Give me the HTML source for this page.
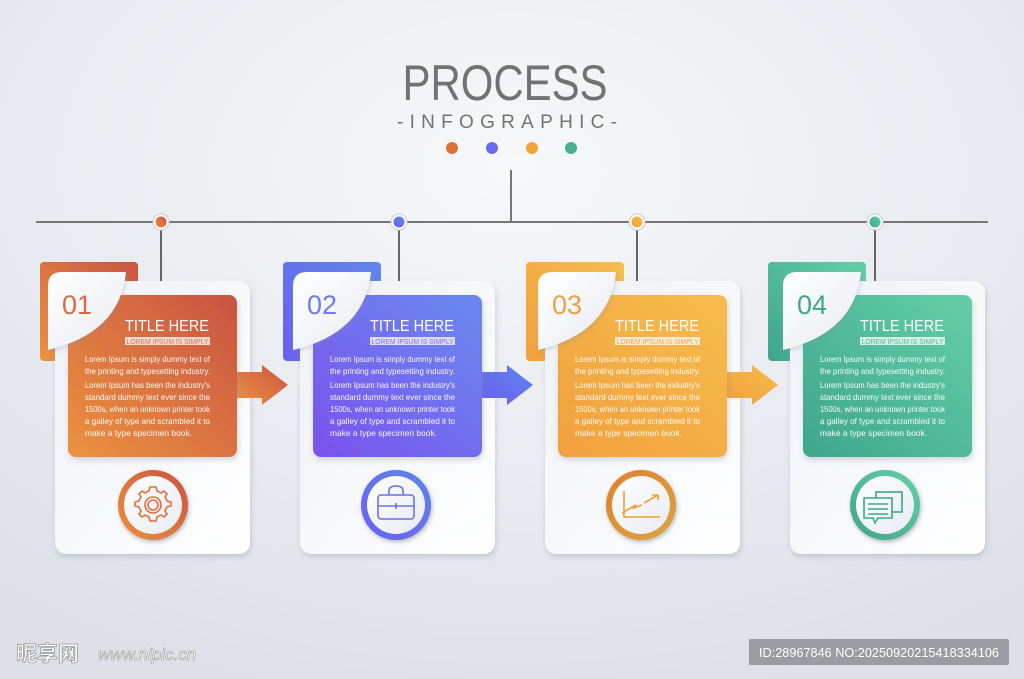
<!DOCTYPE html>
<html><head><meta charset="utf-8"><style>
html,body{margin:0;padding:0;width:1024px;height:679px;overflow:hidden;background:#e6e9ee}
svg{display:block;font-family:"Liberation Sans",sans-serif}
</style></head><body>
<svg width="1024" height="679" viewBox="0 0 1024 679" xmlns="http://www.w3.org/2000/svg">
<defs>
<radialGradient id="bg" cx="0.5" cy="0.25" r="0.8"><stop offset="0" stop-color="#f7f8fa"/><stop offset="1" stop-color="#dde1e7"/></radialGradient>
<linearGradient id="c0" x1="0" y1="1" x2="1" y2="0"><stop offset="0" stop-color="#ec9240"/><stop offset="1" stop-color="#c85443"/></linearGradient>
<linearGradient id="c1" x1="0" y1="1" x2="1" y2="0"><stop offset="0" stop-color="#6a5ff0"/><stop offset="1" stop-color="#5f86ea"/></linearGradient>
<linearGradient id="c1p" x1="0" y1="1" x2="1" y2="0"><stop offset="0" stop-color="#7a52ee"/><stop offset="1" stop-color="#6a8aee"/></linearGradient>
<linearGradient id="c2" x1="0" y1="1" x2="1" y2="0"><stop offset="0" stop-color="#f1a03e"/><stop offset="1" stop-color="#f6bd4c"/></linearGradient>
<linearGradient id="c2r" x1="0" y1="0" x2="1" y2="1"><stop offset="0" stop-color="#e0802e"/><stop offset="1" stop-color="#d9a640"/></linearGradient>
<linearGradient id="c3" x1="0" y1="1" x2="1" y2="0"><stop offset="0" stop-color="#3fa68a"/><stop offset="1" stop-color="#63cfa8"/></linearGradient>
<linearGradient id="leaf" x1="0" y1="0" x2="1" y2="1"><stop offset="0" stop-color="#ffffff"/><stop offset="1" stop-color="#e8ebf1"/></linearGradient>
<linearGradient id="card" x1="0" y1="0" x2="1" y2="1"><stop offset="0" stop-color="#eef1f6"/><stop offset="1" stop-color="#ffffff"/></linearGradient>
<filter id="sh" x="-20%" y="-20%" width="140%" height="140%"><feDropShadow dx="1" dy="3" stdDeviation="3" flood-color="#8890a0" flood-opacity="0.35"/></filter>
<filter id="sh3" x="-20%" y="-20%" width="140%" height="140%"><feDropShadow dx="1" dy="2" stdDeviation="2" flood-color="#8890a0" flood-opacity="0.3"/></filter>
<filter id="sh2" x="-30%" y="-30%" width="160%" height="160%"><feDropShadow dx="1" dy="2" stdDeviation="2" flood-color="#555" flood-opacity="0.4"/></filter>
</defs>
<rect width="1024" height="679" fill="url(#bg)"/>

<text x="505" y="100" font-size="50" fill="#727272" text-anchor="middle" textLength="205" lengthAdjust="spacingAndGlyphs">PROCESS</text>
<text x="507" y="128" font-size="19" fill="#727272" text-anchor="middle" textLength="220" lengthAdjust="spacing">-INFOGRAPHIC-</text>
<circle cx="452" cy="148" r="6" fill="#e0703c"/><circle cx="492" cy="148" r="6" fill="#6a6cf0"/><circle cx="532" cy="148" r="6" fill="#f3a23c"/><circle cx="571" cy="148" r="6" fill="#45b08f"/>
<line x1="511" y1="170" x2="511" y2="222" stroke="#777" stroke-width="2"/>
<line x1="36" y1="222" x2="988" y2="222" stroke="#777" stroke-width="2"/>

<g>
<line x1="161" y1="222" x2="161" y2="282" stroke="#666" stroke-width="2"/>
<circle cx="161" cy="222" r="8" fill="#fff" stroke="#ccc"/><circle cx="161" cy="222" r="5.5" fill="url(#c0)"/>
<rect x="40" y="262" width="98" height="99" rx="4" fill="url(#c0)"/>
<rect x="55" y="281" width="195" height="273" rx="11" fill="url(#card)" filter="url(#sh)"/>
<path d="M237,372 H262 V365 L288,385 L262,405 V398 H237 Z" fill="url(#c0)"/>
<rect x="68" y="295" width="169" height="162" rx="8" fill="url(#c0)" filter="url(#sh)"/>
<path d="M48,350 L48,286 Q48,272 62,272 L126,272 Q120,333 48,350 Z" fill="url(#leaf)" filter="url(#sh3)"/>
<text x="62" y="314" font-size="27" fill="#d96a40">01</text>
<text x="167" y="331" font-size="15.5" fill="#fff" text-anchor="middle" textLength="84" lengthAdjust="spacingAndGlyphs">TITLE HERE</text>
<rect x="125" y="337" width="85" height="8" fill="#fff" opacity="0.75"/>
<text x="167.5" y="344" font-size="7" fill="#d47060" text-anchor="middle" textLength="82" lengthAdjust="spacingAndGlyphs">LOREM IPSUM IS SIMPLY</text>
<g font-size="8.3" fill="#fff" opacity="0.95">
<text x="85" y="362" textLength="125" lengthAdjust="spacingAndGlyphs">Lorem Ipsum is simply dummy text of</text>
<text x="85" y="374" textLength="125" lengthAdjust="spacingAndGlyphs">the printing and typesetting industry.</text>
<text x="85" y="388" textLength="125" lengthAdjust="spacingAndGlyphs">Lorem Ipsum has been the industry's</text>
<text x="85" y="400" textLength="125" lengthAdjust="spacingAndGlyphs">standard dummy text ever since the</text>
<text x="85" y="412" textLength="125" lengthAdjust="spacingAndGlyphs">1500s, when an unknown printer took</text>
<text x="85" y="424" textLength="125" lengthAdjust="spacingAndGlyphs">a galley of type and scrambled it to</text>
<text x="85" y="436" textLength="107" lengthAdjust="spacingAndGlyphs">make a type specimen book.</text>
</g>
<circle cx="153" cy="505" r="35" fill="url(#c0)" filter="url(#sh2)"/>
<circle cx="153" cy="505" r="29" fill="url(#leaf)"/>
</g>
<g fill="none" stroke="#e0703c" stroke-width="1.6">
<circle cx="153" cy="505" r="8"/><circle cx="153" cy="505" r="5"/>
<path d="M153,487 l3,0 1,4 4,2 3,-2 3,3 -2,3 2,4 4,1 0,4 -4,1 -2,4 2,3 -3,3 -3,-2 -4,2 -1,4 -6,0 -1,-4 -4,-2 -3,2 -3,-3 2,-3 -2,-4 -4,-1 0,-4 4,-1 2,-4 -2,-3 3,-3 3,2 4,-2 1,-4 z"/>
</g>

<g transform="translate(245,0)">
<line x1="154" y1="222" x2="154" y2="282" stroke="#666" stroke-width="2"/>
<circle cx="154" cy="222" r="8" fill="#fff" stroke="#ccc"/><circle cx="154" cy="222" r="5.5" fill="url(#c1)"/>
<rect x="38" y="262" width="98" height="99" rx="4" fill="url(#c1)"/>
<rect x="55" y="281" width="195" height="273" rx="11" fill="url(#card)" filter="url(#sh)"/>
<path d="M237,372 H262 V365 L288,385 L262,405 V398 H237 Z" fill="url(#c1)"/>
<rect x="68" y="295" width="169" height="162" rx="8" fill="url(#c1p)" filter="url(#sh)"/>
<path d="M48,350 L48,286 Q48,272 62,272 L126,272 Q120,333 48,350 Z" fill="url(#leaf)" filter="url(#sh3)"/>
<text x="62" y="314" font-size="27" fill="#6a7cf0">02</text>
<text x="167" y="331" font-size="15.5" fill="#fff" text-anchor="middle" textLength="84" lengthAdjust="spacingAndGlyphs">TITLE HERE</text>
<rect x="125" y="337" width="85" height="8" fill="#fff" opacity="0.75"/>
<text x="167.5" y="344" font-size="7" fill="#8a70e0" text-anchor="middle" textLength="82" lengthAdjust="spacingAndGlyphs">LOREM IPSUM IS SIMPLY</text>
<g font-size="8.3" fill="#fff" opacity="0.95">
<text x="85" y="362" textLength="125" lengthAdjust="spacingAndGlyphs">Lorem Ipsum is simply dummy text of</text>
<text x="85" y="374" textLength="125" lengthAdjust="spacingAndGlyphs">the printing and typesetting industry.</text>
<text x="85" y="388" textLength="125" lengthAdjust="spacingAndGlyphs">Lorem Ipsum has been the industry's</text>
<text x="85" y="400" textLength="125" lengthAdjust="spacingAndGlyphs">standard dummy text ever since the</text>
<text x="85" y="412" textLength="125" lengthAdjust="spacingAndGlyphs">1500s, when an unknown printer took</text>
<text x="85" y="424" textLength="125" lengthAdjust="spacingAndGlyphs">a galley of type and scrambled it to</text>
<text x="85" y="436" textLength="107" lengthAdjust="spacingAndGlyphs">make a type specimen book.</text>
</g>
<circle cx="151" cy="505" r="35" fill="url(#c1)" filter="url(#sh2)"/>
<circle cx="151" cy="505" r="29" fill="url(#leaf)"/>
<g fill="none" stroke="#6a70ee" stroke-width="1.6">
<rect x="133" y="495" width="36" height="24" rx="3"/><path d="M144,495 v-4 q0,-5 7,-5 q7,0 7,5 v4 M133,506 h36 M151,503 v6"/>
</g>
</g>

<g transform="translate(490,0)">
<line x1="147" y1="222" x2="147" y2="282" stroke="#666" stroke-width="2"/>
<circle cx="147" cy="222" r="8" fill="#fff" stroke="#ccc"/><circle cx="147" cy="222" r="5.5" fill="url(#c2)"/>
<rect x="36" y="262" width="98" height="99" rx="4" fill="url(#c2)"/>
<rect x="55" y="281" width="195" height="273" rx="11" fill="url(#card)" filter="url(#sh)"/>
<path d="M237,372 H262 V365 L288,385 L262,405 V398 H237 Z" fill="url(#c2)"/>
<rect x="68" y="295" width="169" height="162" rx="8" fill="url(#c2)" filter="url(#sh)"/>
<path d="M48,350 L48,286 Q48,272 62,272 L126,272 Q120,333 48,350 Z" fill="url(#leaf)" filter="url(#sh3)"/>
<text x="62" y="314" font-size="27" fill="#f0a040">03</text>
<text x="167" y="331" font-size="15.5" fill="#fff" text-anchor="middle" textLength="84" lengthAdjust="spacingAndGlyphs">TITLE HERE</text>
<rect x="125" y="337" width="85" height="8" fill="#fff" opacity="0.75"/>
<text x="167.5" y="344" font-size="7" fill="#f0a060" text-anchor="middle" textLength="82" lengthAdjust="spacingAndGlyphs">LOREM IPSUM IS SIMPLY</text>
<g font-size="8.3" fill="#fff" opacity="0.95">
<text x="85" y="362" textLength="125" lengthAdjust="spacingAndGlyphs">Lorem Ipsum is simply dummy text of</text>
<text x="85" y="374" textLength="125" lengthAdjust="spacingAndGlyphs">the printing and typesetting industry.</text>
<text x="85" y="388" textLength="125" lengthAdjust="spacingAndGlyphs">Lorem Ipsum has been the industry's</text>
<text x="85" y="400" textLength="125" lengthAdjust="spacingAndGlyphs">standard dummy text ever since the</text>
<text x="85" y="412" textLength="125" lengthAdjust="spacingAndGlyphs">1500s, when an unknown printer took</text>
<text x="85" y="424" textLength="125" lengthAdjust="spacingAndGlyphs">a galley of type and scrambled it to</text>
<text x="85" y="436" textLength="107" lengthAdjust="spacingAndGlyphs">make a type specimen book.</text>
</g>
<circle cx="151" cy="505" r="35" fill="url(#c2r)" filter="url(#sh2)"/>
<circle cx="151" cy="505" r="29" fill="url(#leaf)"/>
<g fill="none" stroke="#f0a030" stroke-width="1.6">
<path d="M134,491 v26 h36 M132,513 l14,-8 -2,3 8,-3 M154,503 l14,-8 M162,495 h6 v5"/>
</g>
</g>

<g transform="translate(735,0)">
<line x1="140" y1="222" x2="140" y2="282" stroke="#666" stroke-width="2"/>
<circle cx="140" cy="222" r="8" fill="#fff" stroke="#ccc"/><circle cx="140" cy="222" r="5.5" fill="url(#c3)"/>
<rect x="33" y="262" width="98" height="99" rx="4" fill="url(#c3)"/>
<rect x="55" y="281" width="195" height="273" rx="11" fill="url(#card)" filter="url(#sh)"/>
<rect x="68" y="295" width="169" height="162" rx="8" fill="url(#c3)" filter="url(#sh)"/>
<path d="M48,350 L48,286 Q48,272 62,272 L126,272 Q120,333 48,350 Z" fill="url(#leaf)" filter="url(#sh3)"/>
<text x="62" y="314" font-size="27" fill="#3ea788">04</text>
<text x="167" y="331" font-size="15.5" fill="#fff" text-anchor="middle" textLength="84" lengthAdjust="spacingAndGlyphs">TITLE HERE</text>
<rect x="125" y="337" width="85" height="8" fill="#fff" opacity="0.75"/>
<text x="167.5" y="344" font-size="7" fill="#5ab898" text-anchor="middle" textLength="82" lengthAdjust="spacingAndGlyphs">LOREM IPSUM IS SIMPLY</text>
<g font-size="8.3" fill="#fff" opacity="0.95">
<text x="85" y="362" textLength="125" lengthAdjust="spacingAndGlyphs">Lorem Ipsum is simply dummy text of</text>
<text x="85" y="374" textLength="125" lengthAdjust="spacingAndGlyphs">the printing and typesetting industry.</text>
<text x="85" y="388" textLength="125" lengthAdjust="spacingAndGlyphs">Lorem Ipsum has been the industry's</text>
<text x="85" y="400" textLength="125" lengthAdjust="spacingAndGlyphs">standard dummy text ever since the</text>
<text x="85" y="412" textLength="125" lengthAdjust="spacingAndGlyphs">1500s, when an unknown printer took</text>
<text x="85" y="424" textLength="125" lengthAdjust="spacingAndGlyphs">a galley of type and scrambled it to</text>
<text x="85" y="436" textLength="107" lengthAdjust="spacingAndGlyphs">make a type specimen book.</text>
</g>
<circle cx="150" cy="505" r="35" fill="url(#c3)" filter="url(#sh2)"/>
<circle cx="150" cy="505" r="29" fill="url(#leaf)"/>
<g fill="none" stroke="#3ea788" stroke-width="1.6">
<rect x="141" y="492" width="26" height="20"/><path d="M129,498 h28 v20 h-14 l-3,5 -2,-5 h-9 z" fill="#f4f7f8"/><path d="M133,504 h20 M133,509 h20 M133,514 h20"/>
</g>
</g>

<text x="16" y="661" font-size="21" fill="#fff" stroke="#999" stroke-width="0.8" font-family="'Noto Sans CJK SC',sans-serif" font-weight="bold">昵享网</text>
<text x="98" y="660" font-size="17" fill="#fff" stroke="#999" stroke-width="0.6" font-style="italic">www.nipic.cn</text>
<rect x="749" y="639" width="260" height="26" rx="2" fill="#9a9ca2"/>
<text x="879" y="657" font-size="13" fill="#fff" text-anchor="middle" textLength="240" lengthAdjust="spacingAndGlyphs">ID:28967846 NO:20250920215418334106</text>
</svg>
</body></html>
